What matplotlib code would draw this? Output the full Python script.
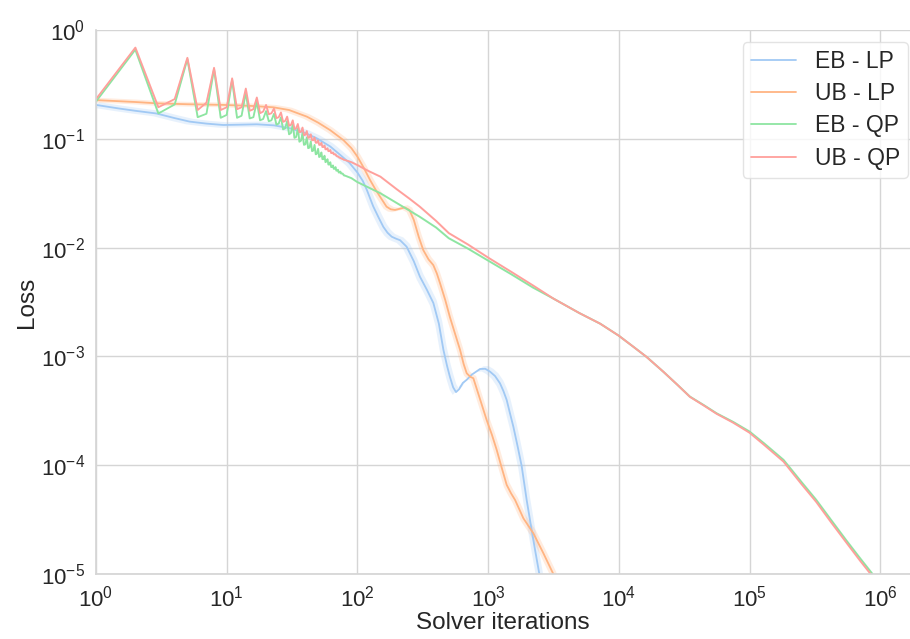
import matplotlib
matplotlib.use('Agg')
import matplotlib.pyplot as plt
import seaborn as sns
import numpy as np

sns.set_theme(style='whitegrid')
plt.rcParams['font.family'] = ['Liberation Sans', 'DejaVu Sans']
plt.rcParams['mathtext.fontset'] = 'custom'
plt.rcParams['mathtext.rm'] = 'Liberation Sans'
plt.rcParams['mathtext.it'] = 'Liberation Sans:italic'
plt.rcParams['mathtext.bf'] = 'Liberation Sans:bold'

labels = ['EB - LP', 'UB - LP', 'EB - QP', 'UB - QP']
colors = sns.color_palette('pastel')[:4]

# EB - LP
eb_lp_it = [1, 1.5, 2, 2.9, 4, 5.2, 7, 9.4, 13, 17, 23, 30.5, 40, 49, 62, 74, 87, 100,
            110, 118, 132, 145, 158, 170, 183, 197, 212, 238, 270, 301, 340, 381, 420,
            455, 485, 510, 540, 568, 600, 640, 686, 750, 867, 950, 1035, 1130, 1233,
            1310, 1387, 1470, 1560, 1680, 1807, 1972, 2158, 2300, 2466, 2600]
eb_lp = [0.205, 0.19, 0.181, 0.171, 0.155, 0.144, 0.138, 0.134, 0.135, 0.136, 0.133,
         0.125, 0.113, 0.101, 0.085, 0.071, 0.06, 0.049, 0.041, 0.034, 0.024, 0.019,
         0.0155, 0.0137, 0.0126, 0.0121, 0.0117, 0.0102, 0.0075, 0.0054, 0.0041,
         0.0031, 0.0020, 0.00115, 0.00082, 0.00065, 0.00052, 0.00047, 0.00050,
         0.00057, 0.00061, 0.00068, 0.000766, 0.00077, 0.000724, 0.00066, 0.000566,
         0.00048, 0.000398, 0.0003, 0.000226, 0.00015, 9.8e-5, 4.8e-5, 2.5e-5,
         1.6e-5, 1.0e-5, 7e-6]

# UB - LP
ub_lp_it = [1, 2, 2.9, 5, 9.4, 15, 22.7, 30, 41, 50, 62, 78, 90, 100, 112, 125, 137,
            149, 167, 180, 194, 212, 231, 250, 270, 295, 319, 350, 381, 405, 429, 470,
            510, 560, 610, 650, 686, 730, 771, 870, 975, 1070, 1164, 1270, 1387, 1500,
            1607, 1862, 2218, 2649, 3155, 3400]
ub_lp = [0.227, 0.218, 0.212, 0.208, 0.205, 0.201, 0.195, 0.184, 0.160, 0.141, 0.120,
         0.0975, 0.082, 0.0686, 0.054, 0.0418, 0.0345, 0.0294, 0.0238, 0.0225, 0.0222,
         0.0228, 0.0234, 0.0222, 0.018, 0.0125, 0.0095, 0.0078, 0.0069, 0.0058,
         0.0047, 0.0033, 0.0023, 0.0016, 0.00115, 0.00085, 0.0007, 0.00065, 0.00063,
         0.0004, 0.00026, 0.00019, 0.000138, 9.5e-5, 6.6e-5, 5.5e-5, 4.8e-5, 3.25e-5,
         2.37e-5, 1.55e-5, 1.0e-5, 7.5e-6]

# QP runs: every iteration up to 80, then sparse points
qp_osc_it = list(range(1, 81))
eb_qp_osc = [0.22, 0.66, 0.171, 0.207, 0.54, 0.158, 0.17, 0.435, 0.156, 0.166,
             0.347, 0.156, 0.163, 0.265, 0.154, 0.158, 0.22, 0.148, 0.152, 0.18,
             0.145, 0.148, 0.17, 0.135, 0.138, 0.158, 0.122, 0.125, 0.146, 0.110,
             0.113, 0.135, 0.102, 0.104, 0.124, 0.094, 0.096, 0.113, 0.088, 0.089,
             0.103, 0.082, 0.083, 0.095, 0.077, 0.078, 0.088, 0.072, 0.073, 0.081,
             0.068, 0.069, 0.075, 0.065, 0.065, 0.070, 0.061, 0.062, 0.065, 0.058,
             0.058, 0.061, 0.055, 0.055, 0.057, 0.053, 0.053, 0.055, 0.051, 0.051,
             0.052, 0.049, 0.049, 0.050, 0.048, 0.048, 0.048, 0.047, 0.046, 0.046]
ub_qp_osc = [0.232, 0.69, 0.195, 0.232, 0.556, 0.184, 0.215, 0.45, 0.184, 0.195,
             0.36, 0.187, 0.195, 0.29, 0.181, 0.187, 0.24, 0.172, 0.178, 0.205,
             0.168, 0.172, 0.19, 0.155, 0.158, 0.175, 0.143, 0.146, 0.160, 0.132,
             0.134, 0.148, 0.123, 0.125, 0.137, 0.115, 0.116, 0.127, 0.108, 0.109,
             0.118, 0.102, 0.103, 0.110, 0.097, 0.097, 0.103, 0.092, 0.092, 0.097,
             0.088, 0.088, 0.092, 0.084, 0.084, 0.087, 0.080, 0.080, 0.082, 0.077,
             0.077, 0.079, 0.074, 0.074, 0.075, 0.072, 0.072, 0.072, 0.070, 0.069,
             0.069, 0.068, 0.067, 0.067, 0.066, 0.066, 0.065, 0.065, 0.064, 0.064]

qp_tail_it = [90, 100, 120, 150, 200, 250, 300, 400, 500, 700, 1000, 1500, 2200, 3160,
              5000, 7200, 10000, 13000, 16300, 22000, 28000, 35000, 45000, 56000,
              75000, 100000, 130000, 182000, 250000, 324000, 420000, 550000, 700000,
              862000, 950000]
eb_qp_tail = [0.0435, 0.040, 0.036, 0.0316, 0.0257, 0.0219, 0.0192, 0.0153, 0.0122,
              0.0098, 0.0076, 0.0057, 0.0043, 0.0034, 0.0025, 0.0020, 0.00155,
              0.00122, 0.00099, 0.00072, 0.00055, 0.000427, 0.000355, 0.0003,
              0.00025, 0.000204, 0.000158, 0.000112, 7.0e-5, 4.8e-5, 3.15e-5,
              2.04e-5, 1.4e-5, 1.02e-5, 8.3e-6]
ub_qp_tail = [0.061, 0.0574, 0.051, 0.0449, 0.0344, 0.0282, 0.0238, 0.0176, 0.0136,
              0.0107, 0.0081, 0.0060, 0.0045, 0.0034, 0.0025, 0.0020, 0.00155,
              0.00122, 0.00099, 0.00072, 0.00055, 0.000425, 0.000352, 0.000297,
              0.000246, 0.000199, 0.000153, 0.000108, 6.7e-5, 4.6e-5, 3.0e-5,
              1.95e-5, 1.33e-5, 9.7e-6, 8.0e-6]

series = [
    (eb_lp_it, eb_lp, 1.06),
    (ub_lp_it, ub_lp, 1.05),
    (qp_osc_it + qp_tail_it, eb_qp_osc + eb_qp_tail, 1.015),
    (qp_osc_it + qp_tail_it, ub_qp_osc + ub_qp_tail, 1.015),
]

fig = plt.figure(figsize=(9.1, 6.39), dpi=100)
ax = fig.add_axes([0.1055, 0.1017, 0.8945, 0.8513])

for (it, loss, spread), lab, col in zip(series, labels, colors):
    it = np.array(it, dtype=float)
    loss = np.array(loss)
    # confidence band
    bx = np.concatenate([it * spread, (it / spread)[::-1]])
    by = np.concatenate([loss * spread, (loss / spread)[::-1]])
    ax.fill(bx, by, color=col, alpha=0.25, lw=0)
    ax.plot(it, loss, color=col, lw=1.3, label=lab)

ax.set_xscale('log')
ax.set_yscale('log')
ax.set_xlim(1, 1.69e6)
ax.set_ylim(1e-5, 1)
ax.set_xlabel('Solver iterations', fontsize=17.5, labelpad=1)
ax.set_ylabel('Loss', fontsize=17.5, labelpad=2)
ax.tick_params(labelsize=16, pad=2)
ax.minorticks_off()
ax.grid(True, color='#d5d5d5', lw=1)
for s in ['top', 'right']:
    ax.spines[s].set_visible(False)
for s in ['left', 'bottom']:
    ax.spines[s].set_color('#d5d5d5')

leg = ax.legend(loc='upper right', bbox_to_anchor=(0.9975, 0.978), borderaxespad=0,
                fontsize=16.5, handlelength=2.0, labelspacing=0.4, borderpad=0.35,
                frameon=True)
leg.get_frame().set_edgecolor('#dddddd')

fig.savefig('out.png', dpi=100)
